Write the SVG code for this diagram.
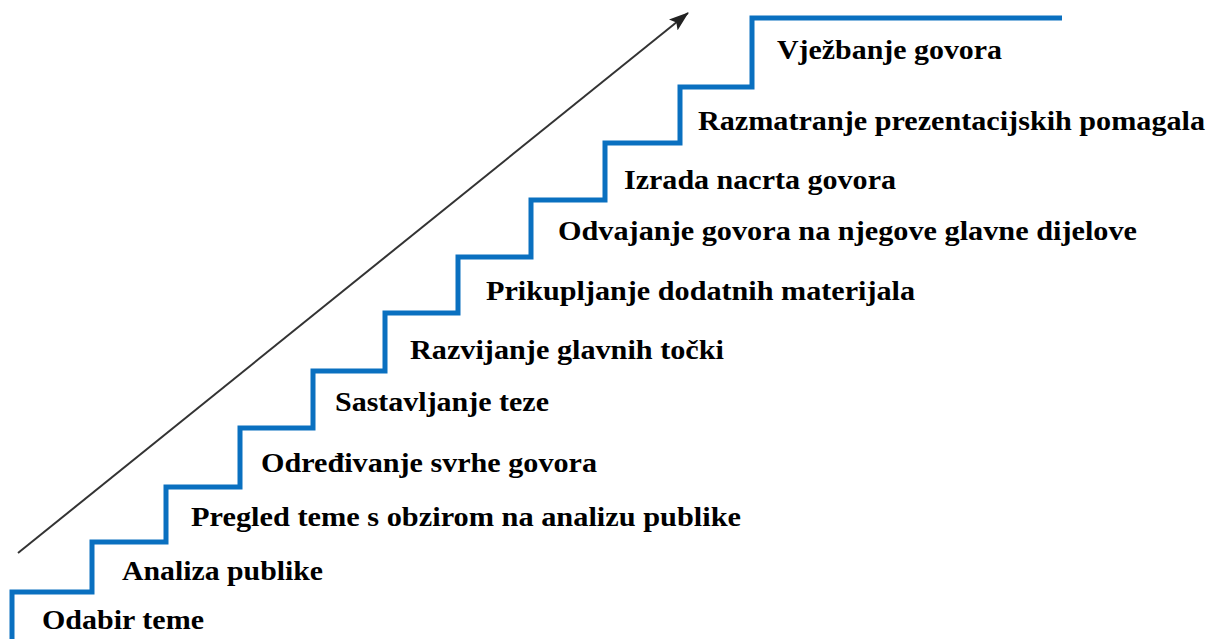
<svg xmlns="http://www.w3.org/2000/svg" width="1215" height="639" viewBox="0 0 1215 639">
  <style>
    .lbl { font-family: 'Liberation Serif', Tinos, 'Times New Roman', Times, serif; font-weight: 700; font-size: 27px; fill: #000; }
    .stair { fill: none; stroke: #0a70c0; stroke-width: 5; stroke-linejoin: miter; }
    .arrow { fill: none; stroke: #333; stroke-width: 2; }
  </style>
  <defs>
    <marker id="ah2" viewBox="0 0 20 14" refX="19" refY="7" markerWidth="20" markerHeight="14" markerUnits="userSpaceOnUse" orient="auto">
      <path d="M0,0 L20,7 L0,14 L4,7 z" fill="#222"/>
    </marker>
  </defs>
  <rect width="1215" height="639" fill="#fff"/>
  <g id="stairs">
    <path class="stair" d="M12,639 V592 H92 V542 H166 V487 H240 V428 H313 V371 H385 V313 H458 V257 H531 V200 H605 V143 H680 V87 H752 V18 H1062"/>
  </g>
  <g id="connectors">
    <line class="arrow" x1="18" y1="553" x2="688" y2="13" marker-end="url(#ah2)"/>
  </g>
  <g id="step1"><text class="lbl" x="42" y="629" textLength="162" lengthAdjust="spacingAndGlyphs">Odabir teme</text></g>
  <g id="step2"><text class="lbl" x="122" y="580" textLength="201" lengthAdjust="spacingAndGlyphs">Analiza publike</text></g>
  <g id="step3"><text class="lbl" x="191" y="526" textLength="550" lengthAdjust="spacingAndGlyphs">Pregled teme s obzirom na analizu publike</text></g>
  <g id="step4"><text class="lbl" x="261" y="472" textLength="336" lengthAdjust="spacingAndGlyphs">Određivanje svrhe govora</text></g>
  <g id="step5"><text class="lbl" x="335" y="411" textLength="214" lengthAdjust="spacingAndGlyphs">Sastavljanje teze</text></g>
  <g id="step6"><text class="lbl" x="410" y="359" textLength="314" lengthAdjust="spacingAndGlyphs">Razvijanje glavnih točki</text></g>
  <g id="step7"><text class="lbl" x="486" y="300" textLength="429" lengthAdjust="spacingAndGlyphs">Prikupljanje dodatnih materijala</text></g>
  <g id="step8"><text class="lbl" x="558" y="240" textLength="579" lengthAdjust="spacingAndGlyphs">Odvajanje govora na njegove glavne dijelove</text></g>
  <g id="step9"><text class="lbl" x="624" y="189" textLength="272" lengthAdjust="spacingAndGlyphs">Izrada nacrta govora</text></g>
  <g id="step10"><text class="lbl" x="698" y="130" textLength="507" lengthAdjust="spacingAndGlyphs">Razmatranje prezentacijskih pomagala</text></g>
  <g id="step11"><text class="lbl" x="777" y="59" textLength="225" lengthAdjust="spacingAndGlyphs">Vježbanje govora</text></g>
</svg>
